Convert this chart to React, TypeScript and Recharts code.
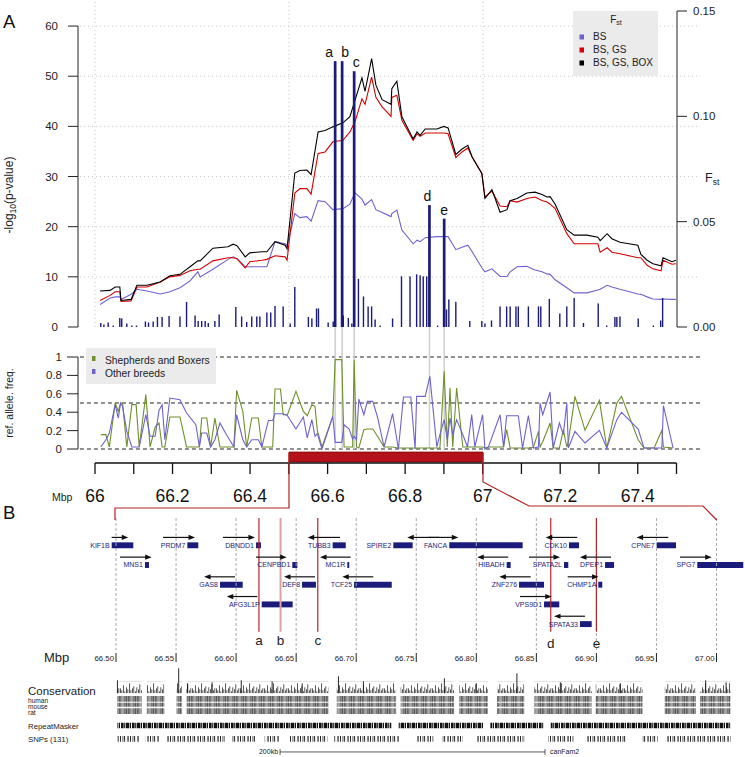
import React from 'react'
import {
  ComposedChart, Bar, Line, XAxis, YAxis, ReferenceLine, ReferenceArea, ReferenceDot,
} from 'recharts'

const FONT = '"Liberation Sans", Arial, Helvetica, sans-serif'
const NAVY = '#1b1b7c'
const BLUE = '#6d62cf'
const RED = '#d40000'
const GREEN = '#6f8f2a'
const DARKRED = '#b3121a'
const GENE_TXT = '#1e1e78'

// ---------- panel A: association (-log10 p) per SNP ----------
const snpPos = [
  66.015, 66.023, 66.034, 66.047, 66.064, 66.069, 66.082, 66.095, 66.107, 66.13,
  66.138, 66.15, 66.161, 66.173, 66.191, 66.219, 66.236, 66.258, 66.266, 66.275,
  66.284, 66.292, 66.309, 66.32, 66.363, 66.378, 66.391, 66.404, 66.417, 66.425,
  66.443, 66.453, 66.464, 66.485, 66.503, 66.515, 66.55, 66.559, 66.571, 66.576,
  66.601, 66.614, 66.64, 66.653, 66.662, 66.679, 66.692, 66.704, 66.713, 66.722,
  66.735, 66.767, 66.79, 66.812, 66.829, 66.838, 66.846, 66.855, 66.883, 66.906,
  66.912, 66.93, 66.966, 66.997, 67.005, 67.022, 67.044, 67.061, 67.07, 67.085,
  67.091, 67.117, 67.143, 67.149, 67.171, 67.198, 67.216, 67.235, 67.259, 67.297,
  67.319, 67.34, 67.345, 67.353, 67.4, 67.439, 67.458, 67.463,
]
const snpLogP = [
  0.8, 0.5, 0.9, 0.3, 1.8, 1.7, 0.7, 0.3, 0.3, 1.1,
  0.9, 1.1, 2.0, 2.0, 2.2, 2.1, 5.0, 2.3, 1.2, 1.2,
  1.2, 0.8, 1.2, 2.5, 4.0, 2.1, 1.0, 2.1, 2.1, 2.1,
  2.9, 2.9, 4.2, 4.1, 0.7, 8.0, 2.0, 1.7, 3.7, 3.7,
  0.9, 1.1, 2.3, 1.8, 0.7, 9.6, 6.1, 4.1, 4.1, 1.5,
  0.3, 1.7, 10.1, 10.1, 10.5, 10.3, 10.1, 10.1, 0.3, 3.5,
  5.5, 5.0, 1.2, 1.2, 0.7, 1.3, 4.1, 4.1, 4.1, 4.1,
  4.1, 4.1, 4.1, 4.1, 5.6, 2.7, 4.1, 5.8, 0.8, 4.7,
  0.3, 2.0, 2.0, 2.1, 1.7, 0.3, 1.3, 5.8,
]
// the five top SNPs (a-e)
const peakPos = [66.619, 66.637, 66.668, 66.862, 66.9]
const peakLogP = [53, 53, 51, 24.3, 21.6]
const peakTags = ['a', 'b', 'c', 'd', 'e']
const tagNudge = [-6, 3, 2, -2, 0]

// ---------- Fst sliding windows ----------
const fstPos = [
  66.013, 66.039, 66.052, 66.064, 66.067, 66.093, 66.108, 66.134, 66.168, 66.193,
  66.219, 66.245, 66.265, 66.271, 66.304, 66.343, 66.356, 66.366, 66.387, 66.399,
  66.43, 66.443, 66.464, 66.49, 66.495, 66.515, 66.528, 66.546, 66.557, 66.575,
  66.593, 66.613, 66.639, 66.657, 66.67, 66.688, 66.696, 66.713, 66.724, 66.74,
  66.763, 66.765, 66.778, 66.791, 66.82, 66.83, 66.838, 66.851, 66.881, 66.899,
  66.91, 66.93, 66.946, 66.961, 66.972, 66.997, 67.005, 67.023, 67.044, 67.062,
  67.07, 67.088, 67.113, 67.134, 67.152, 67.165, 67.173, 67.186, 67.216, 67.235,
  67.268, 67.296, 67.302, 67.32, 67.332, 67.353, 67.399, 67.407, 67.423, 67.438,
  67.459, 67.464, 67.487, 67.497,
]
const fstBS = [
  0.0107, 0.0138, 0.0143, 0.0143, 0.0131, 0.0155, 0.0179, 0.0171, 0.0157, 0.0167,
  0.0186, 0.0219, 0.0262, 0.0238, 0.0274, 0.0321, 0.0333, 0.0324, 0.0286, 0.0286,
  0.0286, 0.0286, 0.0405, 0.0395, 0.0386, 0.0538, 0.0519, 0.0524, 0.0502, 0.06,
  0.0595, 0.0557, 0.0562, 0.0583, 0.0638, 0.0607, 0.0579, 0.0605, 0.0557, 0.0543,
  0.0524, 0.0538, 0.0555, 0.046, 0.0395, 0.0412, 0.0405, 0.0424, 0.0429, 0.0429,
  0.0429, 0.0367, 0.0379, 0.0388, 0.0357, 0.0281, 0.0262, 0.0276, 0.024, 0.024,
  0.0262, 0.0286, 0.0288, 0.0271, 0.0262, 0.0252, 0.025, 0.0224, 0.0186, 0.0162,
  0.0162, 0.0176, 0.0179, 0.0198, 0.019, 0.0179, 0.0157, 0.0155, 0.0143, 0.0133,
  0.0131, 0.0133, 0.0131, 0.0131,
]
const fstBSGS = [
  0.0126, 0.015, 0.0167, 0.0167, 0.0121, 0.0124, 0.019, 0.019, 0.0214, 0.0238,
  0.0245, 0.0267, 0.0274, 0.0274, 0.0314, 0.0329, 0.0329, 0.0324, 0.0281, 0.031,
  0.0317, 0.0321, 0.0338, 0.0333, 0.0317, 0.0636, 0.0657, 0.0657, 0.0631, 0.0824,
  0.0831, 0.0879, 0.0886, 0.0926, 0.0974, 0.1083, 0.1057, 0.1186, 0.109, 0.1045,
  0.1, 0.109, 0.11, 0.0981, 0.0886, 0.0917, 0.0905, 0.0921, 0.0921, 0.0921,
  0.0917, 0.0805, 0.0831, 0.085, 0.0807, 0.0729, 0.0617, 0.0645, 0.0574, 0.0571,
  0.06, 0.0593, 0.061, 0.0617, 0.06, 0.0593, 0.0583, 0.0562, 0.0443, 0.0395,
  0.0395, 0.0395, 0.0355, 0.0376, 0.0355, 0.0348, 0.0329, 0.0329, 0.0293, 0.0276,
  0.0267, 0.0317, 0.0298, 0.03,
]
const fstBSGSBOX = [
  0.0171, 0.0174, 0.019, 0.019, 0.0126, 0.0131, 0.0198, 0.0198, 0.0214, 0.0243,
  0.025, 0.0286, 0.0314, 0.0314, 0.0374, 0.0381, 0.0393, 0.0386, 0.0333, 0.0352,
  0.0357, 0.0357, 0.0405, 0.0388, 0.0371, 0.0731, 0.0743, 0.0745, 0.0724, 0.0926,
  0.0933, 0.095, 0.0969, 0.0998, 0.1076, 0.1183, 0.1119, 0.1274, 0.1148, 0.1079,
  0.1057, 0.1131, 0.1167, 0.0998, 0.0893, 0.0926, 0.091, 0.094, 0.094, 0.0952,
  0.0945, 0.0819, 0.0845, 0.0862, 0.0807, 0.0729, 0.061, 0.0652, 0.0545, 0.0557,
  0.06, 0.061, 0.0636, 0.064, 0.0629, 0.0617, 0.0619, 0.0583, 0.0462, 0.0436,
  0.0436, 0.0426, 0.041, 0.0443, 0.0419, 0.0402, 0.0388, 0.0345, 0.0317, 0.03,
  0.029, 0.0329, 0.031, 0.0317,
]

// ---------- reference allele frequency ----------
const freqPos = [
  66.015, 66.028, 66.037, 66.052, 66.06, 66.066, 66.071, 66.082, 66.095, 66.106,
  66.114, 66.131, 66.142, 66.155, 66.165, 66.173, 66.18, 66.193, 66.219, 66.236,
  66.26, 66.269, 66.275, 66.288, 66.298, 66.309, 66.322, 66.339, 66.358, 66.365,
  66.381, 66.391, 66.404, 66.421, 66.43, 66.447, 66.458, 66.464, 66.478, 66.485,
  66.496, 66.518, 66.537, 66.547, 66.559, 66.567, 66.573, 66.585, 66.613, 66.619,
  66.636, 66.642, 66.655, 66.664, 66.668, 66.674, 66.68, 66.693, 66.702, 66.716,
  66.728, 66.745, 66.767, 66.782, 66.795, 66.814, 66.825, 66.829, 66.851, 66.863,
  66.881, 66.889, 66.9, 66.908, 66.915, 66.922, 66.932, 66.948, 66.96, 66.971,
  66.979, 66.999, 67.005, 67.014, 67.044, 67.053, 67.061, 67.07, 67.091, 67.102,
  67.117, 67.13, 67.143, 67.147, 67.154, 67.173, 67.181, 67.197, 67.207, 67.216,
  67.22, 67.237, 67.263, 67.3, 67.319, 67.345, 67.357, 67.4, 67.415, 67.441,
  67.461, 67.465, 67.49,
]
const freqShepBox = [
  0.156, 0.156, 0.022, 0.5, 0.409, 0.5, 0.5, 0.022, 0.482, 0.482,
  0.022, 0.591, 0.022, 0.239, 0.283, 0.022, 0.022, 0.348, 0.348, 0.022,
  0.022, 0.022, 0.337, 0.337, 0.022, 0.337, 0.022, 0.022, 0.022, 0.638,
  0.409, 0.022, 0.337, 0.337, 0.022, 0.022, 0.022, 0.652, 0.652, 0.373,
  0.373, 0.627, 0.409, 0.362, 0.482, 0.464, 0.203, 0.022, 0.355, 0.971,
  0.971, 0.022, 0.022, 0.022, 0.971, 0.022, 0.011, 0.21, 0.217, 0.217,
  0.138, 0.022, 0.022, 0.011, 0.011, 0.011, 0.011, 0.011, 0.011, 0.011,
  0.011, 0.011, 0.844, 0.022, 0.663, 0.022, 0.663, 0.022, 0.022, 0.022,
  0.022, 0.022, 0.011, 0.022, 0.022, 0.022, 0.21, 0.011, 0.011, 0.011,
  0.011, 0.022, 0.192, 0.022, 0.08, 0.283, 0.011, 0.011, 0.21, 0.022,
  0.08, 0.572, 0.203, 0.529, 0.011, 0.5, 0.572, 0.101, 0.011, 0.011,
  0.203, 0.022, 0.011,
]
const freqOther = [
  0.022, 0.101, 0.174, 0.482, 0.337, 0.5, 0.464, 0.192, 0.022, 0.022,
  0.022, 0.373, 0.138, 0.138, 0.42, 0.482, 0.101, 0.554, 0.536, 0.391,
  0.264, 0.022, 0.174, 0.174, 0.022, 0.101, 0.283, 0.156, 0.022, 0.373,
  0.101, 0.022, 0.101, 0.101, 0.022, 0.31, 0.31, 0.384, 0.384, 0.384,
  0.362, 0.217, 0.348, 0.12, 0.319, 0.138, 0.167, 0.0, 0.355, 0.072,
  0.072, 0.264, 0.217, 0.109, 0.138, 0.101, 0.543, 0.373, 0.518, 0.518,
  0.348, 0.022, 0.384, 0.0, 0.565, 0.565, 0.0, 0.572, 0.572, 0.79,
  0.022, 0.156, 0.319, 0.101, 0.337, 0.156, 0.319, 0.156, 0.022, 0.373,
  0.022, 0.373, 0.0, 0.022, 0.373, 0.022, 0.362, 0.362, 0.362, 0.011,
  0.362, 0.011, 0.022, 0.5, 0.373, 0.62, 0.011, 0.283, 0.156, 0.5,
  0.011, 0.192, 0.065, 0.203, 0.011, 0.319, 0.399, 0.217, 0.011, 0.011,
  0.011, 0.471, 0.011,
]

const logPTicks = [0, 10, 20, 30, 40, 50, 60]
const fstTicks = [0, 0.05, 0.1, 0.15]
const freqTicks = [0, 0.2, 0.4, 0.6, 0.8, 1]
const mbpTicks = [66, 66.1, 66.2, 66.3, 66.4, 66.5, 66.6, 66.7, 66.8, 66.9, 67, 67.1, 67.2, 67.3, 67.4, 67.5]
const mbpTickLabels = ['66', '', '66.2', '', '66.4', '', '66.6', '', '66.8', '', '67', '', '67.2', '', '67.4', '']
const selectedRegion = [66.5, 67.0]

// ---------- panel B: genes in the selected region ----------
const geneNames = ['KIF1B', 'PRDM7', 'DBNDD1', 'TUBB3', 'SPIRE2', 'FANCA', 'CDK10', 'CPNE7', 'MNS1', 'CENPBD1', 'MC1R', 'HIBADH', 'SPATA2L', 'DPEP1', 'SPG7', 'GAS8', 'DEF8', 'TCF25', 'ZNF276', 'CHMP1A', 'AFG3L1P', 'VPS9D1', 'SPATA33']
const geneRow = [1, 1, 1, 1, 1, 1, 1, 1, 2, 2, 2, 2, 2, 2, 2, 3, 3, 3, 3, 3, 4, 4, 5]
const geneStart = [66.4964, 66.5594, 66.6166, 66.6804, 66.7309, 66.7775, 66.8772, 66.9502, 66.5241, 66.6468, 66.6926, 66.8253, 66.873, 66.9072, 66.984, 66.5866, 66.6549, 66.6982, 66.8356, 66.9016, 66.6213, 66.8564, 66.8863]
const geneEnd = [66.5144, 66.5685, 66.6207, 66.6913, 66.747, 66.8386, 66.8855, 66.9663, 66.5275, 66.651, 66.6942, 66.8286, 66.8766, 66.9147, 67.0223, 66.6055, 66.6665, 66.7296, 66.8564, 66.9049, 66.6471, 66.8691, 66.8961]
const arrowTail = [66.4964, 66.5391, 66.5891, 66.6865, 66.7694, 66.76, 66.8841, 66.9599, 66.5033, 66.6166, 66.6954, 66.8266, 66.8439, 66.9122, 66.9696, 66.5991, 66.6657, 66.7142, 66.8453, 66.8761, 66.6177, 66.8364, 66.8905]
const arrowHead = [66.5102, 66.5658, 66.6157, 66.6596, 66.7425, 66.785, 66.8578, 66.9335, 66.5297, 66.6421, 66.6699, 66.8008, 66.8697, 66.8863, 66.996, 66.5733, 66.6399, 66.6884, 66.8192, 66.9018, 66.5922, 66.8628, 66.8647]

const zoomTicks = [66.5, 66.55, 66.6, 66.65, 66.7, 66.75, 66.8, 66.85, 66.9, 66.95, 67.0]
const zoomTickLabels = ['66.50', '66.55', '66.60', '66.65', '66.70', '66.75', '66.80', '66.85', '66.90', '66.95', '67.00']

const consStart = [66.5012, 66.5257, 66.5502, 66.5587, 66.6838, 66.7369, 66.7859, 66.8173, 66.8483, 66.8994, 66.9569, 66.9863]
const consEnd = [66.5216, 66.5402, 66.555, 66.6769, 66.7332, 66.7815, 66.8097, 66.8399, 66.8962, 66.9384, 66.9827, 67.0116]
const consPeakPos = [66.5012, 66.5522, 66.5595, 66.58, 66.6043, 66.63, 66.655, 66.6852, 66.706, 66.7734, 66.8, 66.8338, 66.87, 66.92, 66.991, 67.008]
const consPeakScore = [0.52, 1.0, 0.4, 0.44, 0.52, 0.48, 0.4, 0.68, 0.48, 0.6, 0.4, 0.8, 0.44, 0.4, 0.52, 0.44]
const repeatStart = [66.5012, 66.7352, 66.8117, 66.862]
const repeatEnd = [66.7292, 66.8057, 66.856, 67.0116]
const snpTrackStart = [66.5012, 66.5241, 66.5422, 66.5965, 66.6238, 66.6447, 66.6817, 66.7501, 66.7718, 66.8004, 66.86, 66.8922, 66.9384, 66.9585]
const snpTrackEnd = [66.5193, 66.5362, 66.5904, 66.6158, 66.6359, 66.6761, 66.7364, 66.7646, 66.7887, 66.8399, 66.8813, 66.9255, 66.9513, 67.0116]
const scaleBar = [66.6366, 66.8572]

// ---------- layout constants ----------
const X_MIN = 65.9562
const X_MAX_TOP = 67.5
const X_MAX_MID = 67.5593
const B_X = [66.40341, 67.02373]
const B_Y = [-1.046, 11.746]
const TRACK = {
  consTop: 7.903, consBase: 8.512, peakScale: 1.27,
  human: [8.65, 8.94], mouse: [8.99, 9.19], rat: [9.27, 9.56],
  repeat: [10.005, 10.29], snp: [10.68, 10.97], scale: 11.49,
}

const topRows = [
  ...snpPos.map((pos, i) => ({ pos, logp: snpLogP[i], tag: null as string | null, bs: null as number | null, bsgs: null as number | null, box: null as number | null })),
  ...peakPos.map((pos, i) => ({ pos, logp: peakLogP[i], tag: peakTags[i], bs: null, bsgs: null, box: null })),
  ...fstPos.map((pos, i) => ({ pos, logp: null as number | null, tag: null, bs: fstBS[i], bsgs: fstBSGS[i], box: fstBSGSBOX[i] })),
].sort((a, b) => a.pos - b.pos)

const freqRows = freqPos.map((pos, i) => ({ pos, sb: freqShepBox[i], other: freqOther[i] }))
const axisRows = mbpTicks.map((pos) => ({ pos }))
const geneRows = geneNames.map((name, i) => ({ pos: geneStart[i], row: geneRow[i], name }))

function SnpBar(p: any) {
  const d = p.payload
  if (!d || d.logp == null || !Number.isFinite(p.y) || !Number.isFinite(p.height)) return <g />
  const w = d.tag ? 2.7 : 1.4
  const cx = p.x + p.width / 2
  const ti = d.tag ? peakTags.indexOf(d.tag) : -1
  return (
    <g>
      <rect x={cx - w / 2} y={p.y} width={w} height={p.height} fill={NAVY} />
      {ti >= 0 && (
        <text x={cx + tagNudge[ti]} y={p.y - 4} textAnchor="middle" fontSize={14} fill="#111" fontFamily={FONT}>
          {d.tag}
        </text>
      )}
    </g>
  )
}

function ArrowShape(props: any) {
  const { x1, y1, x2, y2 } = props
  if (![x1, y1, x2, y2].every((v: number) => Number.isFinite(v))) return <g />
  const d = x2 > x1 ? 1 : -1
  return (
    <g>
      <line x1={x1} y1={y1} x2={x2 - d * 4} y2={y2} stroke="#111" strokeWidth={1.2} />
      <polygon points={`${x2},${y2} ${x2 - d * 6.5},${y2 - 2.6} ${x2 - d * 6.5},${y2 + 2.6}`} fill="#111" />
    </g>
  )
}

const tickStyle = { fontSize: 11.5, fill: '#222', fontFamily: FONT }
const consTexture = [5, 3, 8, 2, 6, 4, 10, 3, 5, 7, 2, 6, 4, 9, 3, 5]
const alnStripes = [
  [0, 1, '#555'], [1, 1, '#999'], [2, 0.8, '#333'], [2.8, 1.2, '#777'], [4, 0.5, '#ddd'],
  [4.5, 1, '#444'], [5.5, 1, '#aaa'], [6.5, 1.4, '#666'], [7.9, 1.1, '#888'],
] as const

function Overlay() {
  return (
    <svg width={745} height={757} style={{ position: 'absolute', left: 0, top: 0, pointerEvents: 'none' }} fontFamily={FONT}>
      <defs>
        <pattern id="consPat" patternUnits="userSpaceOnUse" x={0} y={176.3} width={24} height={12}>
          {consTexture.map((h, i) => (
            <rect key={i} x={i * 1.5} y={12 - h} width={0.7} height={h} fill="#111" />
          ))}
        </pattern>
        <pattern id="alnPat" patternUnits="userSpaceOnUse" x={0} y={0} width={9} height={40}>
          {alnStripes.map(([x, w, c], i) => (
            <rect key={i} x={x} y={0} width={w} height={40} fill={c} />
          ))}
        </pattern>
        <pattern id="repPat" patternUnits="userSpaceOnUse" x={0} y={0} width={11} height={40}>
          <rect x={0} y={0} width={2.6} height={40} fill="#111" />
          <rect x={3.2} y={0} width={1} height={40} fill="#111" />
          <rect x={4.8} y={0} width={3.4} height={40} fill="#111" />
          <rect x={8.8} y={0} width={1.2} height={40} fill="#111" />
        </pattern>
        <pattern id="snpPat" patternUnits="userSpaceOnUse" x={0} y={0} width={10} height={40}>
          <rect x={0} y={0} width={0.9} height={40} fill="#111" />
          <rect x={2.6} y={0} width={0.7} height={40} fill="#111" />
          <rect x={4.2} y={0} width={0.9} height={40} fill="#111" />
          <rect x={7.5} y={0} width={1.1} height={40} fill="#111" />
        </pattern>
      </defs>

      <text x={3} y={28.3} fontSize={18.5} fill="#111">A</text>
      <text x={3} y={519} fontSize={18.5} fill="#111">B</text>

      <text transform="translate(12.5,195) rotate(-90)" textAnchor="middle" fontSize={12} fill="#222">
        -log<tspan fontSize={8.5} dy={3}>10</tspan><tspan dy={-3}>(p-value)</tspan>
      </text>
      <text transform="translate(12.5,403) rotate(-90)" textAnchor="middle" fontSize={10.5} fill="#222">
        ref. allele. freq.
      </text>
      <text x={705} y={182} fontSize={12.5} fill="#222">
        F<tspan fontSize={8.5} dy={2.5}>st</tspan>
      </text>

      {/* Fst legend */}
      <rect x={573} y={11} width={85} height={65} fill="#ebebeb" />
      <text x={616} y={23} textAnchor="middle" fontSize={10} fill="#222">
        F<tspan fontSize={7} dy={2}>st</tspan>
      </text>
      <rect x={579.5} y={34.5} width={4.5} height={5} fill={BLUE} />
      <rect x={579.5} y={47.5} width={4.5} height={5} fill={RED} />
      <rect x={579.5} y={60.5} width={4.5} height={5} fill="#000" />
      <text x={593} y={40} fontSize={10} fill="#222">BS</text>
      <text x={593} y={53} fontSize={10} fill="#222">BS, GS</text>
      <text x={593} y={66} fontSize={10} fill="#222">BS, GS, BOX</text>

      {/* freq legend */}
      <rect x={86} y={348} width={130} height={36} fill="#ebebeb" />
      <rect x={92} y={356} width={3.5} height={5} fill={GREEN} />
      <rect x={92} y={369} width={3.5} height={5} fill={BLUE} />
      <text x={105} y={363.5} fontSize={10.3} fill="#222">Shepherds and Boxers</text>
      <text x={105} y={376.5} fontSize={10.3} fill="#222">Other breeds</text>

      <text x={52} y={501} fontSize={10.5} fill="#222">Mbp</text>

      {/* zoom connectors */}
      <polyline points="289,453 289,508 115,508 115,520" fill="none" stroke="#b22222" strokeWidth={1.2} />
      <polyline points="483,453 483,482 529,506 703,506 716.7,520" fill="none" stroke="#b22222" strokeWidth={1.2} />

      <text x={44} y={662} fontSize={13} fill="#222">Mbp</text>
      <text x={28} y={695} fontSize={11.5} fill="#222">Conservation</text>
      <text x={28} y={702.5} fontSize={6.6} fill="#222">human</text>
      <text x={28} y={708.5} fontSize={6.6} fill="#222">mouse</text>
      <text x={28} y={714.5} fontSize={6.6} fill="#222">rat</text>
      <text x={28} y={729} fontSize={7.8} fill="#222">RepeatMasker</text>
      <text x={28} y={742} fontSize={7.8} fill="#222">SNPs (131)</text>
    </svg>
  )
}

export default function App() {
  const pos = (top: number): React.CSSProperties => ({ position: 'absolute', left: 0, top })
  return (
    <div style={{ position: 'absolute', left: 0, top: 0, width: 745, height: 757, background: '#fff', fontFamily: FONT }}>
      {/* panel A, top: p-values + Fst */}
      <div style={pos(0)}>
        <ComposedChart width={745} height={340} data={topRows} margin={{ top: 11, right: 0, bottom: 13, left: 0 }}>
          <XAxis type="number" dataKey="pos" domain={[X_MIN, X_MAX_TOP]} hide height={0} allowDataOverflow />
          <YAxis yAxisId="p" domain={[0, 63]} ticks={logPTicks} width={78} tickSize={10} tickMargin={10}
            axisLine={false} tickLine={{ stroke: '#222' }} tick={tickStyle} allowDataOverflow />
          <YAxis yAxisId="fst" orientation="right" domain={[0, 0.15]} ticks={fstTicks} width={68} tickSize={10}
            tickMargin={6} tickFormatter={(v: number) => v.toFixed(2)} axisLine={{ stroke: '#222' }}
            tickLine={{ stroke: '#222' }} tick={tickStyle} allowDataOverflow />
          {logPTicks.slice(1).map((y) => (
            <ReferenceLine key={`h${y}`} yAxisId="p" segment={[{ x: X_MIN + 0.005, y }, { x: X_MAX_MID, y }]}
              stroke="#c4c4c4" strokeDasharray="1 3" ifOverflow="visible" />
          ))}
          {[66, 66.5, 67].map((x) => (
            <ReferenceLine key={`v${x}`} yAxisId="p" segment={[{ x, y: 0 }, { x, y: 65.2 }]}
              stroke="#c4c4c4" strokeDasharray="1 3" ifOverflow="visible" />
          ))}
          <ReferenceLine yAxisId="p" segment={[{ x: X_MIN, y: 0 }, { x: X_MIN, y: 60 }]} stroke="#222" ifOverflow="visible" />
          <Line yAxisId="fst" dataKey="bs" stroke={BLUE} strokeWidth={1.1} dot={false} connectNulls isAnimationActive={false} />
          <Line yAxisId="fst" dataKey="bsgs" stroke={RED} strokeWidth={1.1} dot={false} connectNulls isAnimationActive={false} />
          <Line yAxisId="fst" dataKey="box" stroke="#000" strokeWidth={1.1} dot={false} connectNulls isAnimationActive={false} />
          <Bar yAxisId="p" dataKey="logp" barSize={2} shape={SnpBar} isAnimationActive={false} {...({ zIndex: 500 } as any)} />
        </ComposedChart>
      </div>

      {/* panel A, middle: allele frequencies */}
      <div style={pos(320)}>
        <ComposedChart width={745} height={160} data={freqRows} margin={{ top: 7, right: 45, bottom: 17, left: 0 }}>
          <XAxis type="number" dataKey="pos" domain={[X_MIN, X_MAX_MID]} hide height={0} allowDataOverflow />
          <YAxis domain={[-0.152, 1.326]} ticks={freqTicks} width={78} tickSize={11} tickMargin={5}
            axisLine={false} tickLine={{ stroke: '#222' }} tick={tickStyle} tickFormatter={(v: number) => String(v)} allowDataOverflow />
          <ReferenceLine segment={[{ x: X_MIN, y: 0 }, { x: X_MIN, y: 1 }]} stroke="#222" ifOverflow="visible" />
          {[0, 0.5, 1].map((y) => (
            <ReferenceLine key={y} segment={[{ x: X_MIN + 0.005, y }, { x: X_MAX_MID, y }]} stroke="#222" strokeDasharray="4 3" ifOverflow="visible" />
          ))}
          {peakPos.map((x) => (
            <ReferenceLine key={x} segment={[{ x, y: 0 }, { x, y: 1.326 }]} stroke="#cfcfcf" strokeWidth={1.5} ifOverflow="visible" />
          ))}
          <ReferenceArea x1={selectedRegion[0]} x2={selectedRegion[1]} y1={-0.141} y2={-0.033} fill={DARKRED}
            fillOpacity={1} stroke="#7d0000" strokeWidth={0.8} ifOverflow="visible" />
          <Line dataKey="sb" stroke={GREEN} strokeWidth={1.1} dot={false} isAnimationActive={false} />
          <Line dataKey="other" stroke={BLUE} strokeWidth={1.1} dot={false} isAnimationActive={false} />
        </ComposedChart>
      </div>

      {/* panel A, Mbp axis */}
      <div style={pos(455)}>
        <ComposedChart width={745} height={60} data={axisRows} margin={{ top: 0, right: 68.5, bottom: 0, left: 95 }}>
          <XAxis type="number" dataKey="pos" domain={[66, 67.5]} ticks={mbpTicks} interval={0} height={52}
            tickSize={11} tickMargin={16} tickFormatter={(v: number) => mbpTickLabels[mbpTicks.indexOf(v)] ?? ''}
            axisLine={{ stroke: '#111', strokeWidth: 1.3 }} tickLine={{ stroke: '#111', strokeWidth: 1.3 }}
            tick={{ fontSize: 17.5, fill: '#111', fontFamily: FONT }} allowDataOverflow />
          <YAxis hide width={0} />
          <Line dataKey="pos" stroke="none" dot={false} isAnimationActive={false} />
        </ComposedChart>
      </div>

      {/* panel B: gene track */}
      <div style={pos(505)}>
        <ComposedChart width={745} height={252} data={geneRows} margin={{ top: 0, right: 0, bottom: 0, left: 0 }}>
          <XAxis type="number" dataKey="pos" domain={B_X} hide height={0} allowDataOverflow />
          <YAxis type="number" domain={B_Y} reversed hide width={0} allowDataOverflow />
          {zoomTicks.map((x) => (
            <ReferenceLine key={`d${x}`} segment={[{ x, y: -0.386 }, { x, y: 6.314 }]} stroke="#a9a9a9" strokeDasharray="3 2" />
          ))}
          {zoomTicks.map((x) => (
            <ReferenceLine key={`t${x}`} segment={[{ x, y: 6.467 }, { x, y: 6.924 }]} stroke="#222" />
          ))}
          {zoomTicks.map((x, i) => (
            <ReferenceDot key={`l${x}`} x={x} y={6.72} r={0} fill="none" stroke="none"
              label={{ value: zoomTickLabels[i], position: 'left', offset: 2, fontSize: 7.8, fill: '#222', fontFamily: FONT }} />
          ))}
          {peakPos.map((x, i) => (
            <ReferenceLine key={`r${x}`} segment={[{ x, y: -0.386 }, { x, y: 5.386 }]}
              stroke={i === 1 ? '#d9a3a3' : '#b5252b'} strokeWidth={i === 1 ? 2 : 1.2} />
          ))}
          {peakPos.map((x, i) => (
            <ReferenceDot key={`p${x}`} x={x} y={i < 3 ? 5.817 : 5.969} r={0} fill="none" stroke="none"
              label={{ value: peakTags[i], position: 'center', fontSize: 13.5, fill: '#222', fontFamily: FONT }} />
          ))}
          {geneNames.map((name, i) => (
            <ReferenceLine key={`a${name}`} segment={[{ x: arrowTail[i], y: geneRow[i] - 0.4 }, { x: arrowHead[i], y: geneRow[i] - 0.4 }]}
              shape={ArrowShape} />
          ))}
          {geneNames.map((name, i) => (
            <ReferenceArea key={`g${name}`} x1={geneStart[i]} x2={geneEnd[i]} y1={geneRow[i] - 0.15} y2={geneRow[i] + 0.15}
              fill={NAVY} fillOpacity={1} stroke="none"
              label={{ value: name, position: 'left', offset: 2, fontSize: 7, fill: GENE_TXT, fontFamily: FONT }} />
          ))}
          {consStart.map((s, i) => (
            <ReferenceArea key={`c${s}`} x1={s} x2={consEnd[i]} y1={TRACK.consTop} y2={TRACK.consBase} fill="url(#consPat)" fillOpacity={1} stroke="none" />
          ))}
          {consPeakPos.map((x, i) => (
            <ReferenceLine key={`k${x}`} segment={[{ x, y: TRACK.consBase }, { x, y: TRACK.consBase - consPeakScore[i] * TRACK.peakScale }]}
              stroke="#111" strokeWidth={0.9} />
          ))}
          {[TRACK.human, TRACK.mouse, TRACK.rat].map((tr, j) =>
            consStart.map((s, i) => (
              <ReferenceArea key={`al${j}-${s}`} x1={s} x2={consEnd[i]} y1={tr[0]} y2={tr[1]} fill="url(#alnPat)" fillOpacity={1} stroke="none" />
            )),
          )}
          {repeatStart.map((s, i) => (
            <ReferenceArea key={`rp${s}`} x1={s} x2={repeatEnd[i]} y1={TRACK.repeat[0]} y2={TRACK.repeat[1]} fill="url(#repPat)" fillOpacity={1} stroke="none" />
          ))}
          {snpTrackStart.map((s, i) => (
            <ReferenceArea key={`sn${s}`} x1={s} x2={snpTrackEnd[i]} y1={TRACK.snp[0]} y2={TRACK.snp[1]} fill="url(#snpPat)" fillOpacity={1} stroke="none" />
          ))}
          <ReferenceLine segment={[{ x: scaleBar[0], y: TRACK.scale }, { x: scaleBar[1], y: TRACK.scale }]} stroke="#333" strokeWidth={0.8} />
          <ReferenceLine segment={[{ x: scaleBar[0], y: TRACK.scale - 0.15 }, { x: scaleBar[0], y: TRACK.scale + 0.15 }]} stroke="#333" strokeWidth={0.8} />
          <ReferenceLine segment={[{ x: scaleBar[1], y: TRACK.scale - 0.15 }, { x: scaleBar[1], y: TRACK.scale + 0.15 }]} stroke="#333" strokeWidth={0.8} />
          <ReferenceDot x={scaleBar[0]} y={TRACK.scale} r={0} fill="none" stroke="none"
            label={{ value: '200kb', position: 'left', offset: 2, fontSize: 7, fill: '#222', fontFamily: FONT }} />
          <ReferenceDot x={scaleBar[1]} y={TRACK.scale} r={0} fill="none" stroke="none"
            label={{ value: 'canFam2', position: 'right', offset: 5, fontSize: 7, fill: '#222', fontFamily: FONT }} />
          <Line dataKey="row" stroke="none" dot={false} isAnimationActive={false} />
        </ComposedChart>
      </div>

      <Overlay />
    </div>
  )
}
